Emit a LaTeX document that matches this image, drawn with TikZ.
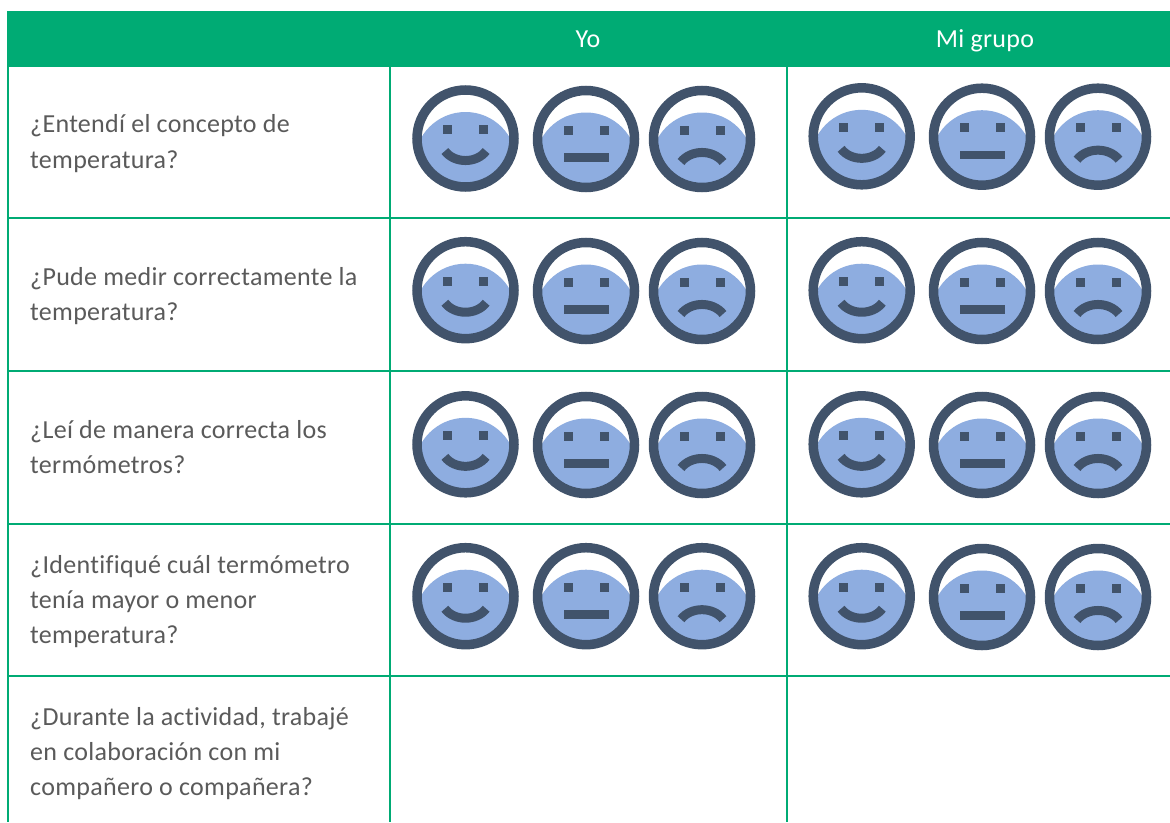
\documentclass[tikz,border=0pt]{standalone}
\usepackage{fontspec}
\setmainfont[LetterSpace=1.2,Ligatures=NoCommon]{Carlito}
\definecolor{grn}{HTML}{00AB74}
\definecolor{ring}{HTML}{41536B}
\definecolor{face}{HTML}{8EADE0}
\definecolor{txt}{HTML}{5A5A5A}
\tikzset{
  x=1pt,y=-1pt,
  gridline/.style={draw=grn,line width=2pt},
  question/.style={anchor=base west,inner sep=0pt,text=txt,font=\fontsize{26}{26}\selectfont},
  headtext/.style={anchor=base,inner sep=0pt,text=white,font=\fontsize{26}{26}\selectfont},
  feature/.style={fill=ring,draw=none},
  mouth/.style={draw=ring,line width=9pt,line cap=butt},
  facering/.style={draw=ring,line width=9.5pt},
  pics/basehead/.style={code={
    \begin{scope}
      \clip (0,0) circle (45);
      \fill[face] (0,24.5) circle (51);
    \end{scope}
    \draw[facering] (0,0) circle (48.5);
    \fill[feature] (-22.5,-13.5) rectangle (-13.5,-4.5);
    \fill[feature] (13.5,-13.5) rectangle (22.5,-4.5);
  }},
  pics/happy/.style={code={
    \pic {basehead};
    \draw[mouth] (-20.6,12.5) .. controls (-11,25.2) and (11,25.2) .. (20.6,12.5);
  }},
  pics/neutral/.style={code={
    \pic {basehead};
    \fill[feature] (-22.5,14) rectangle (22.5,22.5);
  }},
  pics/sad/.style={code={
    \pic {basehead};
    \draw[mouth] (-21,23) .. controls (-11,10.3) and (11,10.3) .. (21,23);
  }},
}
\begin{document}
\begin{tikzpicture}
\useasboundingbox (0,0) rectangle (1170,822);
\fill[white] (0,0) rectangle (1170,822);
\fill[grn] (7,11) rectangle (1170,67);
\draw[gridline] (8,67) -- (8,822);
\draw[gridline] (390,67) -- (390,822);
\draw[gridline] (787,67) -- (787,822);
\foreach \yy in {218,371,524,676} \draw[gridline] (8,\yy) -- (1170,\yy);
\node[headtext] (yo) at (588,47) {Yo};
\node[headtext] (grupo) at (985,47) {Mi grupo};
\node[question] (q1a) at (30,132.5) {¿Entendí el concepto de};
\node[question] (q1b) at (30,168) {temperatura?};
\node[question] (q2a) at (30,285) {¿Pude medir correctamente la};
\node[question] (q2b) at (30,320) {temperatura?};
\node[question] (q3a) at (30,438) {¿Leí de manera correcta los};
\node[question] (q3b) at (30,473) {termómetros?};
\node[question] (q4a) at (30,573) {¿Identifiqué cuál termómetro};
\node[question] (q4b) at (30,608) {tenía mayor o menor};
\node[question] (q4c) at (30,643.5) {temperatura?};
\node[question] (q5a) at (30,725) {¿Durante la actividad, trabajé};
\node[question] (q5b) at (30,760) {en colaboración con mi};
\node[question] (q5c) at (30,795) {compañero o compañera?};
\foreach \ya/\yb/\yc/\yd in {138.5/139/136.3/136.7, 290.2/291/290.2/291, 444.3/445/444.3/445, 596.2/596.2/596.2/597}{
  \pic at (465.5,\ya) {happy};
  \pic at (586,\yb) {neutral};
  \pic at (702,\yb) {sad};
  \pic at (861.7,\yc) {happy};
  \pic at (982,\yd) {neutral};
  \pic at (1098,\yd) {sad};
}
\end{tikzpicture}
\end{document}
